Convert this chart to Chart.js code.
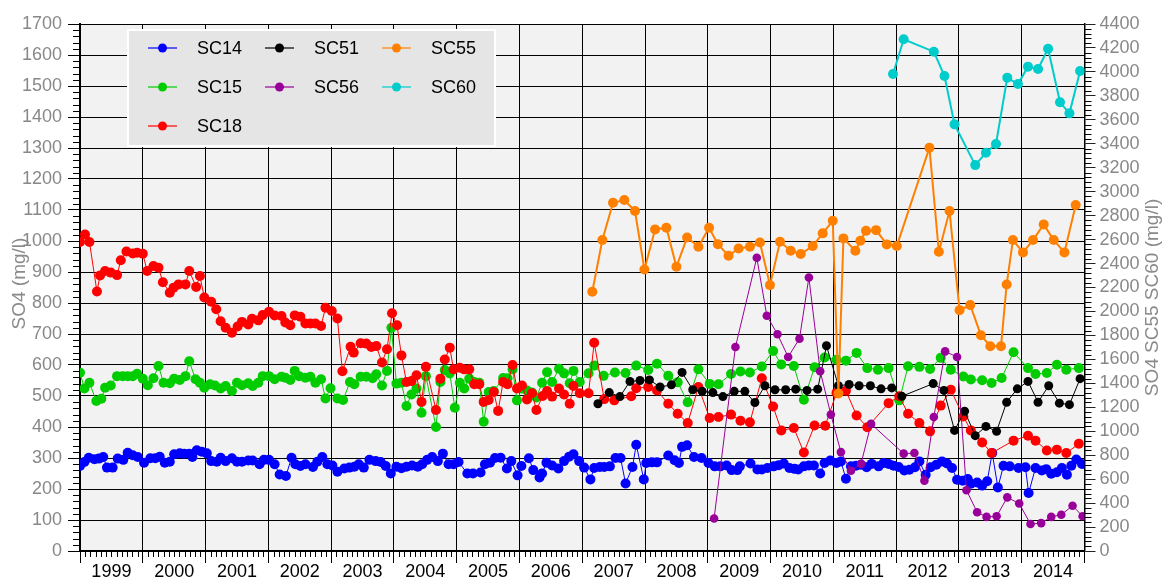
<!DOCTYPE html>
<html>
<head>
<meta charset="utf-8">
<script src="https://cdn.jsdelivr.net/npm/chart.js@4.4.1/dist/chart.umd.min.js"></script>
<style>
  html, body { margin: 0; padding: 0; background: #fff; }
  #wrap { width: 1163px; height: 577px; position: relative; }
</style>
</head>
<body>
<div id="wrap"><canvas id="chart-so4"></canvas></div>
<script>
// x values are decimal years, y values in mg/l
var yearLabels = ['1999', '2000', '2001', '2002', '2003', '2004', '2005', '2006',
  '2007', '2008', '2009', '2010', '2011', '2012', '2013', '2014'];

// SC14
var sc14Dates = [1999.00, 1999.07, 1999.14, 1999.23, 1999.30, 1999.37, 1999.43, 1999.52, 1999.60, 1999.69,
  1999.76, 1999.84, 1999.92, 2000.02, 2000.12, 2000.20, 2000.27, 2000.35, 2000.43, 2000.50,
  2000.59, 2000.66, 2000.74, 2000.79, 2000.86, 2000.94, 2001.02, 2001.09, 2001.18, 2001.24,
  2001.32, 2001.42, 2001.50, 2001.58, 2001.68, 2001.75, 2001.86, 2001.93, 2002.01, 2002.10,
  2002.18, 2002.28, 2002.37, 2002.43, 2002.51, 2002.59, 2002.71, 2002.78, 2002.86, 2002.94,
  2003.02, 2003.10, 2003.21, 2003.29, 2003.37, 2003.44, 2003.52, 2003.61, 2003.71, 2003.79,
  2003.87, 2003.95, 2004.04, 2004.12, 2004.20, 2004.29, 2004.38, 2004.45, 2004.53, 2004.61,
  2004.70, 2004.78, 2004.87, 2004.95, 2005.03, 2005.17, 2005.26, 2005.38, 2005.45, 2005.53,
  2005.61, 2005.70, 2005.80, 2005.87, 2005.97, 2006.03, 2006.15, 2006.22, 2006.32, 2006.36,
  2006.43, 2006.52, 2006.62, 2006.71, 2006.79, 2006.86, 2006.95, 2007.03, 2007.13, 2007.19,
  2007.28, 2007.35, 2007.44, 2007.53, 2007.61, 2007.69, 2007.80, 2007.86, 2007.98, 2008.02,
  2008.11, 2008.19, 2008.37, 2008.47, 2008.54, 2008.59, 2008.67, 2008.78, 2008.90, 2009.01,
  2009.11, 2009.20, 2009.30, 2009.38, 2009.47, 2009.51, 2009.68, 2009.79, 2009.86, 2009.95,
  2010.05, 2010.13, 2010.21, 2010.30, 2010.38, 2010.44, 2010.53, 2010.61, 2010.69, 2010.79,
  2010.86, 2010.95, 2011.05, 2011.12, 2011.20, 2011.28, 2011.36, 2011.44, 2011.53, 2011.61,
  2011.72, 2011.80, 2011.88, 2011.96, 2012.04, 2012.13, 2012.21, 2012.30, 2012.37, 2012.47,
  2012.55, 2012.64, 2012.73, 2012.81, 2012.89, 2012.97, 2013.06, 2013.14, 2013.19, 2013.29,
  2013.37, 2013.45, 2013.53, 2013.62, 2013.71, 2013.81, 2013.95, 2014.06, 2014.11, 2014.22,
  2014.32, 2014.39, 2014.47, 2014.56, 2014.64, 2014.72, 2014.79, 2014.87, 2014.96];
var sc14Values = [274, 287, 301, 296, 298, 303, 269, 269, 298, 294,
  317, 309, 303, 285, 299, 299, 304, 285, 288, 312,
  315, 314, 314, 303, 325, 320, 315, 290, 288, 301,
  290, 299, 288, 288, 292, 292, 280, 294, 294, 280,
  247, 242, 301, 280, 274, 280, 271, 288, 303, 280,
  276, 256, 266, 269, 272, 280, 269, 294, 290, 287,
  274, 250, 272, 267, 272, 276, 272, 280, 294, 303,
  290, 314, 280, 280, 287, 250, 250, 253, 280, 285,
  300, 301, 266, 290, 244, 274, 299, 261, 237, 250,
  285, 276, 266, 290, 304, 312, 290, 269, 231, 268,
  271, 271, 273, 300, 300, 218, 271, 343, 231, 284,
  286, 286, 308, 293, 284, 336, 341, 303, 300, 284,
  273, 273, 276, 261, 261, 273, 282, 263, 263, 268,
  273, 277, 282, 268, 265, 263, 273, 276, 276, 250,
  284, 292, 284, 289, 233, 273, 275, 278, 270, 281,
  273, 284, 281, 275, 271, 260, 262, 270, 289, 246,
  270, 278, 289, 282, 268, 230, 227, 232, 217, 221,
  211, 225, 316, 205, 275, 273, 268, 270, 187, 268,
  260, 264, 249, 254, 268, 246, 275, 295, 281];

// SC15
var sc15Dates = [1999.00, 1999.07, 1999.15, 1999.26, 1999.34, 1999.40, 1999.49, 1999.59, 1999.68, 1999.76,
  1999.84, 1999.91, 2000.00, 2000.08, 2000.17, 2000.25, 2000.33, 2000.43, 2000.50, 2000.59,
  2000.68, 2000.74, 2000.84, 2000.91, 2000.98, 2001.07, 2001.15, 2001.24, 2001.32, 2001.42,
  2001.50, 2001.58, 2001.68, 2001.75, 2001.84, 2001.91, 2002.01, 2002.10, 2002.21, 2002.27,
  2002.35, 2002.42, 2002.49, 2002.59, 2002.67, 2002.75, 2002.84, 2002.91, 2002.99, 2003.10,
  2003.19, 2003.30, 2003.37, 2003.47, 2003.56, 2003.66, 2003.72, 2003.81, 2003.89, 2003.96,
  2004.04, 2004.12, 2004.20, 2004.28, 2004.36, 2004.44, 2004.51, 2004.67, 2004.74, 2004.81,
  2004.89, 2004.97, 2005.05, 2005.12, 2005.20, 2005.28, 2005.36, 2005.43, 2005.51, 2005.59,
  2005.74, 2005.81, 2005.89, 2005.96, 2006.04, 2006.12, 2006.20, 2006.27, 2006.36, 2006.44,
  2006.52, 2006.63, 2006.71, 2006.80, 2006.86, 2006.96, 2007.10, 2007.19, 2007.34, 2007.52,
  2007.69, 2007.86, 2008.05, 2008.19, 2008.37, 2008.52, 2008.68, 2008.85, 2009.03, 2009.17,
  2009.37, 2009.52, 2009.67, 2009.86, 2010.04, 2010.17, 2010.37, 2010.53, 2010.70, 2010.86,
  2011.05, 2011.20, 2011.37, 2011.54, 2011.71, 2011.88, 2012.05, 2012.19, 2012.37, 2012.54,
  2012.71, 2012.87, 2013.07, 2013.19, 2013.37, 2013.52, 2013.68, 2013.87, 2014.10, 2014.22,
  2014.40, 2014.56, 2014.71, 2014.91];
var sc15Values = [575, 524, 543, 484, 491, 527, 534, 564, 564, 564,
  564, 572, 556, 535, 557, 597, 543, 541, 556, 552,
  564, 612, 554, 543, 527, 538, 534, 524, 532, 516,
  543, 535, 541, 532, 543, 564, 564, 554, 562, 559,
  552, 581, 564, 559, 562, 543, 554, 492, 525, 492,
  487, 545, 538, 562, 562, 557, 570, 534, 581, 720,
  540, 543, 468, 505, 524, 446, 564, 400, 545, 584,
  573, 462, 543, 524, 556, 545, 543, 417, 513, 516,
  558, 557, 586, 486, 524, 518, 511, 495, 543, 577,
  545, 588, 573, 541, 581, 545, 573, 598, 565, 576,
  574, 598, 584, 604, 565, 544, 480, 586, 539, 538,
  571, 579, 576, 595, 645, 602, 597, 488, 593, 624,
  617, 614, 639, 590, 585, 590, 486, 596, 594, 587,
  623, 585, 563, 553, 551, 542, 558, 641, 590, 571,
  574, 601, 585, 590];

// SC18
var sc18Dates = [1999.00, 1999.08, 1999.15, 1999.27, 1999.32, 1999.40, 1999.49, 1999.59, 1999.65, 1999.74,
  1999.84, 1999.91, 2000.00, 2000.07, 2000.17, 2000.25, 2000.32, 2000.43, 2000.49, 2000.57,
  2000.68, 2000.74, 2000.85, 2000.91, 2000.98, 2001.09, 2001.17, 2001.24, 2001.32, 2001.42,
  2001.51, 2001.58, 2001.68, 2001.74, 2001.84, 2001.91, 2002.01, 2002.10, 2002.21, 2002.27,
  2002.35, 2002.42, 2002.51, 2002.59, 2002.67, 2002.75, 2002.84, 2002.91, 2003.01, 2003.10,
  2003.18, 2003.31, 2003.36, 2003.47, 2003.56, 2003.64, 2003.72, 2003.81, 2003.89, 2003.97,
  2004.05, 2004.12, 2004.20, 2004.28, 2004.36, 2004.44, 2004.51, 2004.67, 2004.74, 2004.81,
  2004.89, 2004.95, 2005.05, 2005.12, 2005.20, 2005.28, 2005.36, 2005.43, 2005.51, 2005.59,
  2005.66, 2005.74, 2005.81, 2005.89, 2005.96, 2006.04, 2006.12, 2006.20, 2006.27, 2006.37,
  2006.44, 2006.52, 2006.63, 2006.71, 2006.80, 2006.86, 2006.96, 2007.10, 2007.19, 2007.35,
  2007.51, 2007.78, 2007.86, 2008.05, 2008.19, 2008.37, 2008.52, 2008.68, 2008.85, 2009.03,
  2009.17, 2009.37, 2009.52, 2009.67, 2009.86, 2010.04, 2010.17, 2010.37, 2010.53, 2010.70,
  2010.87, 2011.05, 2011.20, 2011.37, 2011.54, 2011.88, 2012.05, 2012.19, 2012.37, 2012.54,
  2012.71, 2012.87, 2013.07, 2013.19, 2013.37, 2013.52, 2013.87, 2014.10, 2014.22, 2014.40,
  2014.56, 2014.71, 2014.91];
var sc18Values = [997, 1021, 997, 837, 889, 903, 898, 890, 938, 966,
  960, 962, 959, 903, 919, 914, 867, 833, 849, 860,
  860, 903, 852, 887, 818, 804, 780, 741, 720, 704,
  724, 739, 731, 749, 744, 761, 772, 760, 758, 737,
  728, 760, 756, 734, 734, 734, 726, 785, 774, 750,
  580, 659, 640, 670, 669, 658, 661, 608, 651, 767,
  728, 631, 545, 548, 567, 481, 594, 455, 556, 618,
  656, 586, 591, 586, 586, 538, 538, 481, 487, 513,
  452, 545, 538, 600, 524, 534, 489, 509, 455, 500,
  516, 498, 524, 505, 475, 532, 509, 509, 672, 490,
  486, 499, 525, 529, 518, 475, 443, 413, 529, 429,
  432, 440, 420, 415, 557, 466, 389, 397, 318, 405,
  404, 510, 517, 437, 399, 477, 499, 443, 413, 386,
  469, 520, 434, 389, 350, 316, 356, 372, 356, 324,
  327, 316, 346];

// SC51
var sc51Dates = [2007.25, 2007.43, 2007.60, 2007.76, 2007.92, 2008.07, 2008.24, 2008.42, 2008.59, 2008.76,
  2008.91, 2009.08, 2009.24, 2009.42, 2009.59, 2009.75, 2009.91, 2010.07, 2010.24, 2010.40,
  2010.58, 2010.75, 2010.89, 2011.08, 2011.25, 2011.41, 2011.59, 2011.76, 2011.93, 2012.09,
  2012.59, 2012.76, 2012.93, 2013.09, 2013.26, 2013.43, 2013.60, 2013.76, 2013.93, 2014.10,
  2014.26, 2014.43, 2014.60, 2014.76, 2014.93];
var sc51Values = [475, 511, 498, 547, 550, 552, 529, 536, 576, 520,
  515, 511, 498, 515, 515, 479, 533, 520, 520, 522,
  518, 522, 662, 533, 537, 533, 533, 523, 526, 499,
  540, 518, 389, 451, 372, 402, 386, 480, 523, 547,
  480, 533, 477, 472, 556];

// SC56
var sc56Dates = [2009.10, 2009.44, 2009.78, 2009.94, 2010.11, 2010.28, 2010.46, 2010.61, 2010.79, 2010.96,
  2011.12, 2011.28, 2011.44, 2011.60, 2012.12, 2012.29, 2012.45, 2012.60, 2012.78, 2012.97,
  2013.12, 2013.29, 2013.44, 2013.60, 2013.77, 2013.96, 2014.14, 2014.31, 2014.47, 2014.63,
  2014.81, 2014.97];
var sc56Values = [105, 658, 946, 759, 699, 626, 685, 882, 580, 440,
  319, 259, 281, 410, 314, 316, 227, 432, 644, 626,
  196, 125, 110, 112, 173, 153, 87, 90, 110, 117,
  146, 112];

// SC55 (right axis)
var sc55Dates = [2007.16, 2007.32, 2007.49, 2007.67, 2007.84, 2007.99, 2008.16, 2008.34, 2008.50, 2008.67,
  2008.85, 2009.02, 2009.16, 2009.33, 2009.49, 2009.67, 2009.83, 2009.99, 2010.15, 2010.32,
  2010.48, 2010.67, 2010.83, 2010.99, 2011.08, 2011.16, 2011.35, 2011.43, 2011.52, 2011.68,
  2011.85, 2012.01, 2012.53, 2012.68, 2012.85, 2013.01, 2013.18, 2013.35, 2013.50, 2013.67,
  2013.76, 2013.86, 2014.02, 2014.18, 2014.35, 2014.51, 2014.68, 2014.86];
var sc55Values = [2164, 2596, 2907, 2930, 2838, 2351, 2685, 2699, 2373, 2618,
  2540, 2699, 2562, 2465, 2526, 2540, 2576, 2220, 2582, 2507,
  2479, 2546, 2652, 2757, 1315, 2610, 2507, 2590, 2673, 2679,
  2560, 2546, 3367, 2498, 2838, 2011, 2053, 1802, 1710, 1710,
  2225, 2596, 2493, 2596, 2727, 2596, 2493, 2888];

// SC60 (right axis)
var sc60Dates = [2011.95, 2012.12, 2012.60, 2012.77, 2012.93, 2013.26, 2013.43, 2013.59, 2013.77, 2013.94,
  2014.10, 2014.26, 2014.42, 2014.61, 2014.76, 2014.93];
var sc60Values = [3982, 4272, 4169, 3966, 3562, 3222, 3325, 3398, 3952, 3899,
  4044, 4024, 4194, 3746, 3654, 4007];

var legendColumns = [['SC14', 'SC15', 'SC18'], ['SC51', 'SC56'], ['SC55', 'SC60']];
var leftTitle = 'SO4 (mg/l)';
var rightTitle = 'SO4 SC55 SC60 (mg/l)';

var FONT = '"Liberation Sans", Arial, Helvetica, sans-serif';
var seriesColors = {
  SC14: '#0000ff',
  SC15: '#00cc00',
  SC18: '#ff0000',
  SC51: '#000000',
  SC56: '#990099',
  SC55: '#ff8000',
  SC60: '#00cccc',
};

function makeSeries(label, dates, values, axis, lineWidth, radius, order) {
  var color = seriesColors[label];
  return {
    label: label,
    data: dates.map(function (d, i) { return { x: d, y: values[i] }; }),
    borderColor: color,
    backgroundColor: color,
    pointBackgroundColor: color,
    pointBorderWidth: 0,
    pointRadius: radius,
    pointHoverRadius: radius,
    borderWidth: lineWidth,
    tension: 0,
    fill: false,
    yAxisID: axis,
    order: order,
  };
}

// plain numbers, no thousands separator
function plainTick(value) {
  return String(value);
}

// plot background
var plotBackground = {
  id: 'plotBackground',
  beforeDraw: function (chart) {
    var ctx = chart.ctx, a = chart.chartArea;
    ctx.save();
    ctx.fillStyle = '#ffffff';
    ctx.fillRect(0, 0, chart.width, chart.height);
    ctx.fillStyle = '#f2f2f2';
    ctx.fillRect(a.left, a.top, a.right - a.left, a.bottom - a.top);
    ctx.restore();
  }
};

// monthly and sub-division ticks
var minorTicks = {
  id: 'minorTicks',
  afterDraw: function (chart) {
    var ctx = chart.ctx, a = chart.chartArea, s = chart.scales;
    ctx.save();
    ctx.strokeStyle = '#000';
    ctx.lineWidth = 1;
    ctx.beginPath();
    var m, px, v;
    for (m = 1; m < (s.x.max - s.x.min) * 12; m++) {
      if (m % 12 === 0) continue;
      px = Math.round(s.x.getPixelForValue(s.x.min + m / 12)) + 0.5;
      ctx.moveTo(px, a.bottom);
      ctx.lineTo(px, a.bottom + 6);
    }
    for (v = 20; v < s.y.max; v += 20) {
      if (v % 100 === 0) continue;
      px = Math.round(s.y.getPixelForValue(v)) + 0.5;
      ctx.moveTo(a.left - 7, px);
      ctx.lineTo(a.left, px);
    }
    for (v = 40; v < s.y2.max; v += 40) {
      if (v % 200 === 0) continue;
      px = Math.round(s.y2.getPixelForValue(v)) + 0.5;
      ctx.moveTo(a.right, px);
      ctx.lineTo(a.right + 7, px);
    }
    ctx.stroke();
    ctx.restore();
  }
};

// axis titles, both read bottom to top
var axisTitles = {
  id: 'axisTitles',
  afterDraw: function (chart) {
    var ctx = chart.ctx, a = chart.chartArea;
    var mid = (a.top + a.bottom) / 2;
    ctx.save();
    ctx.fillStyle = '#8a8a8a';
    ctx.font = '19px ' + FONT;
    ctx.textAlign = 'center';
    ctx.textBaseline = 'middle';
    ctx.save();
    ctx.translate(20, mid - 4);
    ctx.rotate(-Math.PI / 2);
    ctx.fillText(leftTitle, 0, 0);
    ctx.restore();
    ctx.translate(a.right + 68, mid + 10);
    ctx.rotate(-Math.PI / 2);
    ctx.fillText(rightTitle, 0, 0);
    ctx.restore();
  }
};

// legend box in the upper left of the plot
var boxLegend = {
  id: 'boxLegend',
  afterDraw: function (chart) {
    var ctx = chart.ctx, a = chart.chartArea;
    var bx = a.left + 48, by = a.top + 6, bw = 367, bh = 116;
    ctx.save();
    ctx.fillStyle = '#e5e5e5';
    ctx.fillRect(bx, by, bw, bh);
    ctx.strokeStyle = '#ffffff';
    ctx.lineWidth = 2;
    ctx.strokeRect(bx, by, bw, bh);
    ctx.font = '18px ' + FONT;
    ctx.textBaseline = 'middle';
    ctx.textAlign = 'left';
    legendColumns.forEach(function (col, c) {
      col.forEach(function (label, r) {
        var x = bx + 20 + c * 117;
        var y = by + 18 + r * 39;
        var color = seriesColors[label];
        ctx.globalAlpha = 0.6;
        ctx.strokeStyle = color;
        ctx.lineWidth = 2;
        ctx.beginPath();
        ctx.moveTo(x, y);
        ctx.lineTo(x + 29, y);
        ctx.stroke();
        ctx.globalAlpha = 1;
        ctx.fillStyle = color;
        ctx.beginPath();
        ctx.arc(x + 14.5, y, 4.5, 0, Math.PI * 2);
        ctx.fill();
        ctx.fillStyle = '#000';
        ctx.fillText(label, x + 49, y + 1);
      });
    });
    ctx.restore();
  }
};

var ctx = document.getElementById('chart-so4').getContext('2d');
new Chart(ctx, {
  type: 'line',
  data: {
    datasets: [
      makeSeries('SC14', sc14Dates, sc14Values, 'y', 1, 5, 7),
      makeSeries('SC15', sc15Dates, sc15Values, 'y', 1, 5, 6),
      makeSeries('SC18', sc18Dates, sc18Values, 'y', 1, 5, 5),
      makeSeries('SC51', sc51Dates, sc51Values, 'y', 1, 4.5, 4),
      makeSeries('SC56', sc56Dates, sc56Values, 'y', 1, 4.3, 3),
      makeSeries('SC55', sc55Dates, sc55Values, 'y2', 2, 5, 2),
      makeSeries('SC60', sc60Dates, sc60Values, 'y2', 2, 5, 1),
    ],
  },
  options: {
    responsive: true,
    maintainAspectRatio: false,
    animation: false,
    layout: {
      padding: { top: 24, left: 0, right: 0, bottom: 0 },
    },
    plugins: {
      legend: { display: false },
      tooltip: { enabled: false },
    },
    scales: {
      x: {
        type: 'linear',
        position: 'bottom',
        min: 1999,
        max: 2015,
        afterBuildTicks: function (scale) {
          scale.ticks = yearLabels.map(function (y) { return { value: Number(y) + 0.5 }; });
        },
        afterFit: function (scale) { scale.height = 26; },
        grid: {
          offset: true,
          color: '#000',
          lineWidth: 1,
          tickLength: 12,
          tickColor: '#000',
        },
        border: { color: '#000', width: 2 },
        ticks: {
          autoSkip: false,
          maxRotation: 0,
          padding: -2,
          color: '#000',
          font: { size: 18, family: FONT },
          callback: function (value, index) { return yearLabels[index]; },
        },
      },
      y: {
        type: 'linear',
        position: 'left',
        min: 0,
        max: 1700,
        afterFit: function (scale) { scale.width = 80; },
        grid: {
          color: '#000',
          lineWidth: 1,
          tickLength: 12,
          tickColor: '#000',
        },
        border: { color: '#000', width: 2 },
        ticks: {
          stepSize: 100,
          autoSkip: false,
          padding: 6,
          color: '#888',
          font: { size: 18, family: FONT },
          callback: plainTick,
        },
      },
      y2: {
        type: 'linear',
        position: 'right',
        min: 0,
        max: 4400,
        afterFit: function (scale) { scale.width = 78.5; },
        grid: {
          drawOnChartArea: false,
          tickLength: 11,
          tickColor: '#222',
        },
        border: { color: '#000', width: 1.5 },
        ticks: {
          stepSize: 200,
          autoSkip: false,
          padding: 4,
          color: '#888',
          font: { size: 18, family: FONT },
          callback: plainTick,
        },
      },
    },
  },
  plugins: [plotBackground, minorTicks, axisTitles, boxLegend],
});
</script>
</body>
</html>
